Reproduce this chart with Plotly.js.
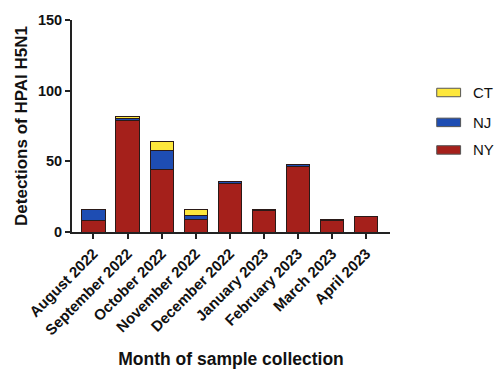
<!DOCTYPE html>
<html>
<head>
<meta charset="utf-8">
<script src="https://cdn.plot.ly/plotly-3.0.1.min.js"></script>
<style>html,body{margin:0;padding:0;background:#fff;}#chart{width:494px;height:369px;}</style>
</head>
<body>
<div id="chart"></div>
<script>
var months = ["August 2022","September 2022","October 2022","November 2022","December 2022","January 2023","February 2023","March 2023","April 2023"];
var nyValues = [8, 79, 44, 9, 34, 15, 46, 8, 11];
var njValues = [8, 1, 14, 3, 2, 1, 2, 0, 0];
var ctValues = [0, 2, 6, 4, 0, 0, 0, 1, 0];
var seriesNames = ["NY", "NJ", "CT"];
var seriesColors = ["#A5201B", "#1E4DB3", "#FDE73C"];
var yTicks = [0, 50, 100, 150];

var fam = "Liberation Sans, Arial, sans-serif";
var seriesValues = [nyValues, njValues, ctValues];
var traces = seriesNames.map(function(n, i){
  return {type: "bar", name: n, x: months, y: seriesValues[i],
    marker: {color: seriesColors[i], line: {color: "#2a1a18", width: 1}},
    width: 0.68, showlegend: false};
});

// custom legend (wide swatches)
var shapes = [], annotations = [];
var legendOrder = [2, 1, 0];
var legY = [0.658, 0.517, 0.387];
legendOrder.forEach(function(si, k){
  shapes.push({type: "rect", xref: "paper", yref: "paper",
    x0: 1.147, x1: 1.222, y0: legY[k] - 0.02, y1: legY[k] + 0.02,
    fillcolor: seriesColors[si], line: {color: "#555", width: 1}});
  annotations.push({xref: "paper", yref: "paper", x: 1.255, y: legY[k],
    xanchor: "left", yanchor: "middle", showarrow: false, text: seriesNames[si],
    font: {family: fam, size: 15, color: "#111"}});
});

var layout = {
  width: 494, height: 369,
  margin: {l: 72, r: 104, t: 20, b: 137},
  paper_bgcolor: "#fff", plot_bgcolor: "#fff",
  barmode: "stack", showlegend: false,
  font: {family: fam, color: "#111"},
  xaxis: {
    type: "category", range: [-0.63, 8.7],
    tickangle: -45, tickfont: {family: fam, size: 15, weight: "bold", color: "#111"},
    ticks: "outside", ticklen: 5, tickwidth: 2, tickcolor: "#222",
    showline: true, linecolor: "#222", linewidth: 2, showgrid: false, zeroline: false,
    title: {text: "Month of sample collection", font: {family: fam, size: 17.5, weight: "bold", color: "#111"}, standoff: 22},
    automargin: false
  },
  yaxis: {
    range: [0, 150], tickvals: yTicks,
    tickfont: {family: fam, size: 14.5, weight: "bold", color: "#111"},
    ticks: "outside", ticklen: 5, tickwidth: 2, tickcolor: "#222",
    showline: true, linecolor: "#222", linewidth: 2, showgrid: false, zeroline: false,
    title: {text: "Detections of HPAI H5N1", font: {family: fam, size: 17, weight: "bold", color: "#111"}, standoff: 6},
    automargin: false
  },
  shapes: shapes, annotations: annotations
};
Plotly.newPlot("chart", traces, layout, {staticPlot: true, displayModeBar: false});
</script>
</body>
</html>
